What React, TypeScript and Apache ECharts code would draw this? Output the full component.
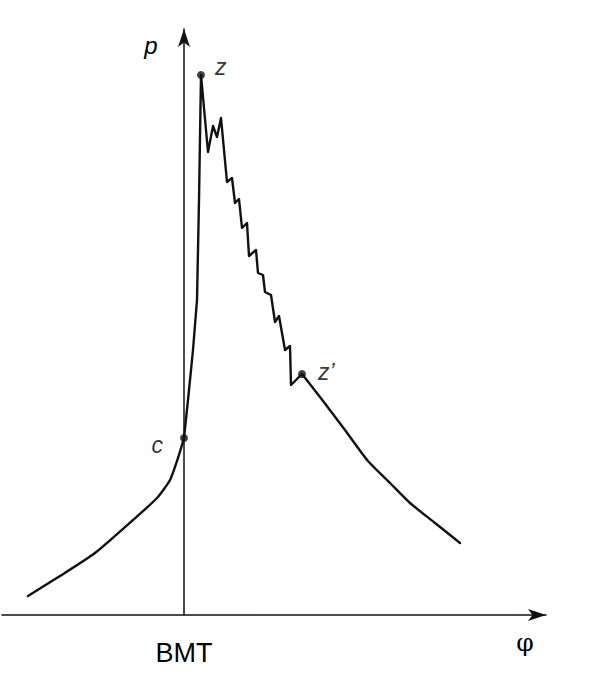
import React, { useEffect, useRef } from "react";
import * as echarts from "echarts";

// crank angle (relative to BMT) and pressure (arbitrary units)
// compression branch before BMT
const phiCompression = [-156, -124, -89, -51, -27, -14, -6, 0];
const pCompression = [19, 39, 62, 95, 117, 135, 157, 177];
// combustion rise and knocking oscillation
const phiCombustion = [
  0, 4, 9, 13, 15, 17,
  24, 29, 33, 37, 43, 48, 51, 55, 58, 63, 65, 72, 74, 79, 81, 87, 91, 95, 101, 106, 107, 118,
];
const pCombustion = [
  177, 215, 265, 315, 415, 540,
  463, 489, 478, 497, 433, 437, 412, 416, 387, 392, 359, 365, 342, 340, 323, 320, 293, 299, 265, 269, 230, 241,
];
// expansion branch
const phiExpansion = [118, 136, 161, 184, 206, 226, 251, 276];
const pExpansion = [241, 218, 185, 154, 132, 112, 92, 72];

// marked points
const markNames = ["c", "z", "z\u2019"];
const markPhi = [0, 17, 118];
const markP = [177, 540, 241];

const xTickLabel = "BMT";
const xName = "\u03c6";
const yName = "p";

const INK = "#111111";
const FONT = "'Liberation Sans', Arial, sans-serif";

const zip = (a: number[], b: number[]) => a.map((x, i) => [x, b[i]]);

export default function App() {
  const ref = useRef<HTMLDivElement>(null);
  useEffect(() => {
    if (!ref.current) return;
    const chart = echarts.init(ref.current, null, { renderer: "svg" });
    const labelCfg: any[] = [
      { position: "left", distance: 17, offset: [0, 7] },
      { position: "right", distance: 10, offset: [0, -8] },
      { position: "right", distance: 12, offset: [0, -2] },
    ];
    const markData = markNames.map((n, i) => ({
      name: n,
      value: [markPhi[i], markP[i]],
      label: {
        show: true,
        formatter: n,
        color: "#000",
        fontSize: 23,
        fontStyle: "italic",
        fontFamily: FONT,
        ...labelCfg[i],
      },
    }));
    const lineStyle = { color: INK, width: 2.4, join: "round", cap: "round" };
    chart.setOption({
      animation: false,
      backgroundColor: "#ffffff",
      grid: { left: 2, right: 47, top: 29, bottom: 59, containLabel: false },
      xAxis: {
        type: "value",
        min: -182,
        max: 362,
        splitLine: { show: false },
        axisTick: { show: false },
        axisLine: {
          show: true,
          symbol: ["none", "arrow"],
          symbolSize: [9, 18],
          lineStyle: { color: INK, width: 1.5 },
        },
        axisLabel: {
          customValues: [0],
          formatter: () => xTickLabel,
          margin: 24,
          fontSize: 27,
          color: "#000",
          fontFamily: FONT,
        },
      },
      yAxis: {
        type: "value",
        min: 0,
        max: 586,
        splitLine: { show: false },
        axisTick: { show: false },
        axisLabel: { show: false },
        axisLine: {
          show: true,
          onZero: true,
          symbol: ["none", "arrow"],
          symbolSize: [9, 18],
          lineStyle: { color: INK, width: 1.5 },
        },
      },
      graphic: [
        {
          type: "text",
          x: 151,
          y: 45,
          style: {
            text: yName,
            fontSize: 24,
            fontStyle: "italic",
            fontFamily: FONT,
            fill: "#000",
            align: "center",
            verticalAlign: "middle",
          },
        },
        {
          type: "text",
          x: 525,
          y: 642,
          style: {
            text: xName,
            fontSize: 25,
            fontFamily: "'DejaVu Serif', 'Liberation Serif', serif",
            fill: "#000",
            align: "center",
            verticalAlign: "middle",
          },
        },
      ],
      series: [
        {
          type: "line",
          data: zip(phiCompression, pCompression),
          symbol: "none",
          smooth: 0.2,
          lineStyle,
          z: 2,
        },
        {
          type: "line",
          data: zip(phiCombustion, pCombustion),
          symbol: "none",
          smooth: false,
          lineStyle,
          z: 2,
        },
        {
          type: "line",
          data: zip(phiExpansion, pExpansion),
          symbol: "none",
          smooth: 0.2,
          lineStyle,
          z: 2,
        },
        {
          type: "scatter",
          data: markData,
          symbol: "circle",
          symbolSize: 8,
          itemStyle: { color: INK },
          z: 3,
        },
      ],
    });
    return () => chart.dispose();
  }, []);
  return (
    <div
      ref={ref}
      style={{ position: "absolute", left: 0, top: 0, width: 593, height: 674, background: "#fff" }}
    />
  );
}
